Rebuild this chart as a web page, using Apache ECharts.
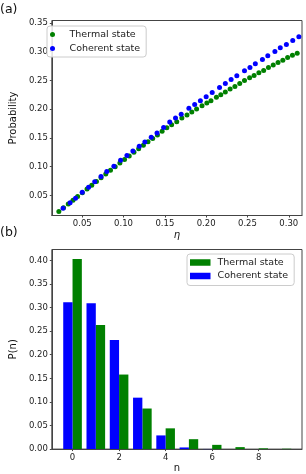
<!DOCTYPE html>
<html><head><meta charset="utf-8">
<script src="https://cdn.jsdelivr.net/npm/echarts@6/dist/echarts.min.js"></script>
<style>html,body{margin:0;padding:0;background:#fff}#c{width:306px;height:474px}</style>
</head><body><div id="c"></div>
<script>
// (a) detection probability vs eta
const etaThermal = [0.0217,0.0274,0.0331,0.0388,0.0444,0.0501,0.0558,0.0615,0.0672,0.0728,0.0785,0.0842,0.0899,0.0956,0.1012,0.1069,0.1126,0.1183,0.1240,0.1296,0.1353,0.1410,0.1467,
  0.1524,0.1582,0.1644,0.1706,0.1768,0.1826,0.1884,0.1950,0.2008,0.2058,0.2124,0.2177,0.2232,0.2290,0.2348,0.2406,0.2464,0.2526,0.2580,0.2638,0.2696,0.2754,0.2812,0.2870,0.2928,0.2986,0.3044,0.3102];
const probThermal = [0.0222,0.0288,0.0354,0.0420,0.0485,0.0550,0.0615,0.0680,0.0745,0.0809,0.0873,0.0937,0.1001,0.1064,0.1126,0.1188,0.1250,0.1311,0.1372,0.1432,0.1492,0.1552,0.1618,
  0.1679,0.1731,0.1783,0.1846,0.1898,0.1950,0.2002,0.2061,0.2106,0.2147,0.2205,0.2252,0.2297,0.2349,0.2395,0.2447,0.2499,0.2546,0.2586,0.2633,0.2673,0.2725,0.2765,0.2812,0.2851,0.2898,0.2938,0.2973];
const etaCoherent = [0.0268,0.0353,0.0419,0.0500,0.0577,0.0651,0.0727,0.0797,0.0883,0.0964,0.1041,0.1113,0.1190,0.1258,0.1335,0.1405,0.1485,0.1559,0.1629,0.1698,0.1791,0.1861,0.1930,0.2000,0.2073,0.2162,0.2232,0.2302,0.2371,0.2464,0.2530,0.2595,0.2681,0.2746,0.2832,0.2897,0.2971,0.3048,0.3122];
const probCoherent = [0.0280,0.0373,0.0453,0.0557,0.0644,0.0738,0.0829,0.0916,0.1008,0.1112,0.1194,0.1275,0.1357,0.1430,0.1510,0.1585,0.1680,0.1777,0.1846,0.1910,0.2014,0.2083,0.2147,0.2217,0.2291,0.2378,0.2447,0.2517,0.2581,0.2668,0.2725,0.2789,0.2864,0.2928,0.3002,0.3066,0.3124,0.3193,0.3257];
const etaTicks = [0.05,0.10,0.15,0.20,0.25,0.30];
const probTicks = [0.05,0.10,0.15,0.20,0.25,0.30,0.35];

// (b) photon number distributions
const photonN = [0,1,2,3,4,5,6,7,8,9];
const pnThermal = [0.403,0.263,0.158,0.086,0.044,0.021,0.009,0.0042,0.0016,0.0008];
const pnCoherent = [0.311,0.309,0.231,0.109,0.029,0.0035,0.0003,0,0,0];
const nTicks = [0,2,4,6,8];
const pnTicks = [0.00,0.05,0.10,0.15,0.20,0.25,0.30,0.35,0.40];

const FONT = 'DejaVu Sans';
const GREEN = '#008000', BLUE = '#0000ff';
const axisCol = '#444';

function xAx(grid, min, max, ticks, fmt, name, nameGap, italic){
  return {type:'value', gridIndex:grid, min:min, max:max, splitLine:{show:false},
    axisLine:{onZero:false, lineStyle:{color:axisCol, width:1}},
    axisTick:{customValues:ticks, length:2, lineStyle:{color:axisCol}},
    axisLabel:{customValues:ticks, formatter:fmt, fontSize:8.5, fontFamily:FONT, color:'#222', margin:4},
    name:name, nameLocation:'middle', nameGap:nameGap,
    nameTextStyle:{fontSize:10, fontFamily:FONT, color:'#111', fontStyle: italic?'italic':'normal'}};
}
function yAx(grid, min, max, ticks, name){
  return {type:'value', gridIndex:grid, min:min, max:max, splitLine:{show:false},
    axisLine:{onZero:false, lineStyle:{color:axisCol, width:1}},
    axisTick:{customValues:ticks, length:2, lineStyle:{color:axisCol}},
    axisLabel:{customValues:ticks, formatter:v=>v.toFixed(2), fontSize:8.5, fontFamily:FONT, color:'#222', margin:4},
    name:name, nameLocation:'middle', nameGap:24, nameRotate:90,
    nameTextStyle:{fontSize:10, fontFamily:FONT, color:'#111'}};
}
function barRender(offset){
  return function(params, api){
    const n = api.value(0), p = api.value(1);
    const a = api.coord([n + offset - 0.2, p]);
    const b = api.coord([n + offset + 0.2, 0]);
    return {type:'rect', shape:{x:a[0], y:a[1], width:b[0]-a[0], height:b[1]-a[1]},
      style:{fill:api.visual('color'), opacity:1}};
  };
}
const legendText = {fontSize:9.5, fontFamily:FONT, color:'#222', lineHeight:11, padding:[0,0,0,2]};

const chart = echarts.init(document.getElementById('c'), null, {renderer:'canvas'});
chart.setOption({
  animation:false,
  backgroundColor:'#fff',
  grid:[
    {left:41, right:4, top:20.5, height:195, show:true, borderColor:axisCol, borderWidth:1, backgroundColor:'transparent'},
    {left:42, right:4, top:249.5, height:201, show:true, borderColor:axisCol, borderWidth:1, backgroundColor:'transparent'}
  ],
  xAxis:[
    xAx(0, 0.0132, 0.316, etaTicks, v=>v.toFixed(2), 'η', 15, true),
    xAx(1, -0.89, 9.86, nTicks, v=>String(v), 'n', 9, false)
  ],
  yAxis:[
    yAx(0, 0.0153, 0.354, probTicks, 'Probability'),
    yAx(1, 0, 0.423, pnTicks, 'P(n)')
  ],
  legend:[
    {orient:'vertical', left:47, top:26, padding:[3,6,3,3], itemGap:3, itemWidth:20, itemHeight:5,
     backgroundColor:'rgba(255,255,255,0.85)', borderColor:'#ccc', borderWidth:1, borderRadius:3,
     textStyle:legendText, selectedMode:false, itemStyle:{opacity:1},
     data:[{name:'Thermal state', icon:'circle'},{name:'Coherent state', icon:'circle'}]},
    {orient:'vertical', left:187, top:254, padding:[3,6,4,3], itemGap:2.5, itemWidth:20.5, itemHeight:6.5,
     backgroundColor:'rgba(255,255,255,0.85)', borderColor:'#ccc', borderWidth:1, borderRadius:3,
     textStyle:legendText, selectedMode:false, itemStyle:{opacity:1},
     data:[{name:'Thermal state', icon:'rect'},{name:'Coherent state', icon:'rect'}]}
  ],
  graphic:[
    {type:'text', left:0, top:3, style:{text:'(a)', fontSize:12.5, fontFamily:FONT, fill:'#111'}},
    {type:'text', left:0, top:226, style:{text:'(b)', fontSize:12.5, fontFamily:FONT, fill:'#111'}}
  ],
  series:[
    {name:'Thermal state', type:'scatter', xAxisIndex:0, yAxisIndex:0, symbolSize:5,
     itemStyle:{color:GREEN, opacity:1}, data:etaThermal.map((e,i)=>[e, probThermal[i]])},
    {name:'Coherent state', type:'scatter', xAxisIndex:0, yAxisIndex:0, symbolSize:5,
     itemStyle:{color:BLUE, opacity:1}, data:etaCoherent.map((e,i)=>[e, probCoherent[i]])},
    {name:'Thermal state', type:'custom', xAxisIndex:1, yAxisIndex:1, itemStyle:{color:GREEN, opacity:1},
     renderItem:barRender(0.2), encode:{x:0, y:1}, data:photonN.map((n,i)=>[n, pnThermal[i]])},
    {name:'Coherent state', type:'custom', xAxisIndex:1, yAxisIndex:1, itemStyle:{color:BLUE, opacity:1},
     renderItem:barRender(-0.2), encode:{x:0, y:1}, data:photonN.map((n,i)=>[n, pnCoherent[i]])}
  ]
});
</script></body></html>
